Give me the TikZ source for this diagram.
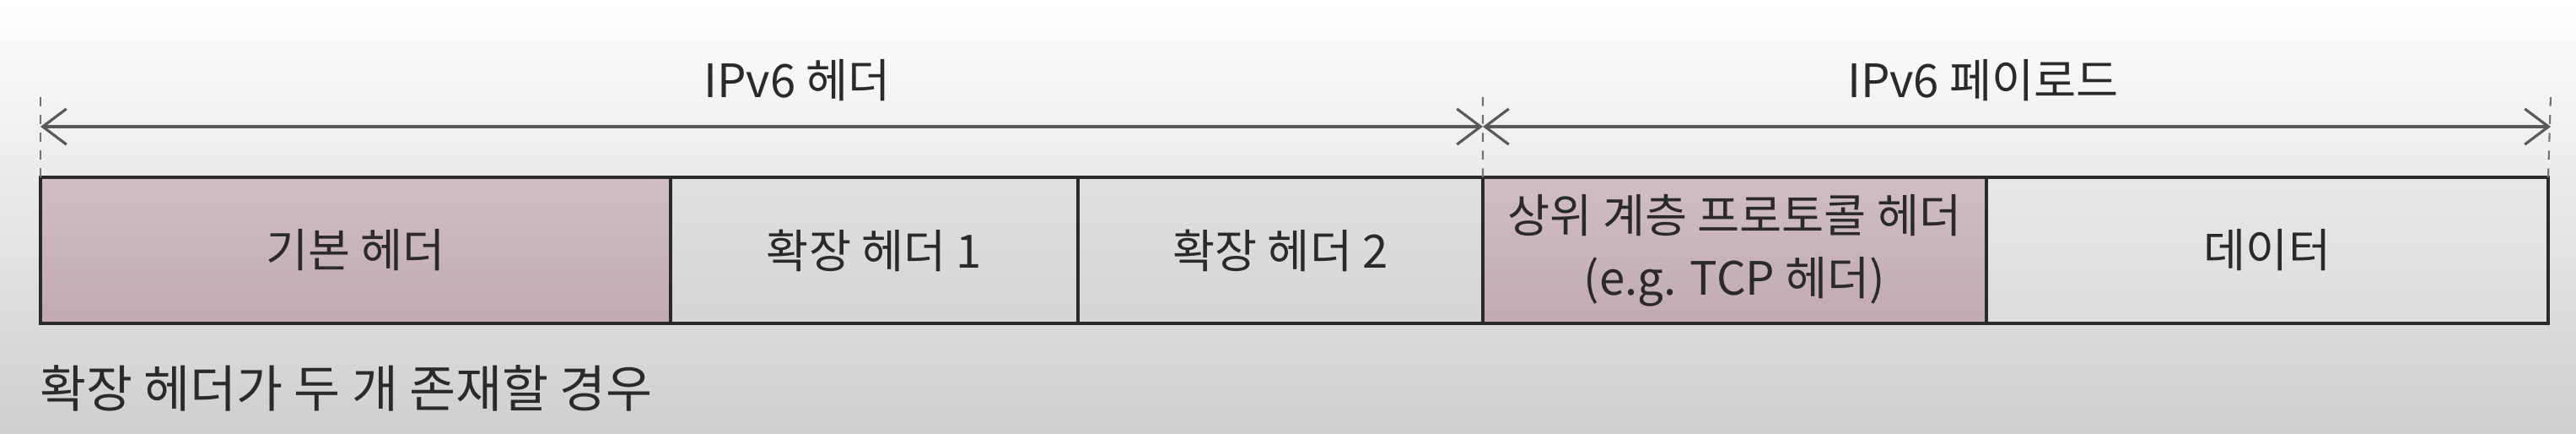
\documentclass[tikz,border=0pt]{standalone}
\usepackage{fontspec}
\setmainfont{Noto Sans CJK KR}
\usepackage{xcolor}
\usetikzlibrary{positioning,arrows.meta}

\definecolor{pinktop}{HTML}{D0BEC4}
\definecolor{pinkbot}{HTML}{C2AAB2}
\definecolor{greytop}{HTML}{E0E0E0}
\definecolor{greybot}{HTML}{D5D5D5}
\definecolor{datatop}{HTML}{E8E8E8}
\definecolor{databot}{HTML}{DCDCDC}
\definecolor{ink}{HTML}{2A2A2A}

\begin{document}
\begin{tikzpicture}[
    >={Straight Barb[length=8pt,width=12pt]},
    line width=0.8pt,
    every node/.style={font=\fontsize{15.5}{21}\selectfont, text=ink},
    cell/.style={draw=ink, line width=1.1pt, minimum height=1.73cm, inner sep=0pt, outer sep=0pt, align=center},
    pinkcell/.style={cell, top color=pinktop, bottom color=pinkbot},
    greycell/.style={cell, top color=greytop, bottom color=greybot},
    datacell/.style={cell, top color=datatop, bottom color=databot},
    guide/.style={draw=black!55, dashed, line width=0.6pt},
    span/.style={<->, draw=black!65, line width=0.9pt}
  ]
    \useasboundingbox (0,0) rectangle (30.54,5.14);
    \shade[top color=white, bottom color=black!19] (0,0) rectangle (30.54,5.14);

    % packet cells
    \node[pinkcell, minimum width=7.47cm, anchor=south west] (base) at (0.48,1.31) {기본 헤더};
    \node[greycell, minimum width=4.83cm, right=0pt of base] (ext1) {확장 헤더 1};
    \node[greycell, minimum width=4.80cm, right=0pt of ext1] (ext2) {확장 헤더 2};
    \node[pinkcell, minimum width=5.97cm, right=0pt of ext2] (upper) {상위 계층 프로토콜 헤더\\(e.g. TCP 헤더)};
    \node[datacell, minimum width=6.66cm, right=0pt of upper] (data) {데이터};

    % guides and spans
    \coordinate (lt) at (0.48,4.01);
    \coordinate (mt) at (17.58,4.01);
    \coordinate (rt) at (30.24,4.01);
    \draw[guide] (base.north west) -- (lt);
    \draw[guide] (upper.north west) -- (mt);
    \draw[guide] (data.north east) -- (rt);

    \coordinate (la) at (0.48,3.64);
    \coordinate (ma) at (17.58,3.64);
    \coordinate (ra) at (30.24,3.64);
    \draw[span] (la) -- (ma);
    \draw[span] (ma) -- (ra);

    \node (hdrlbl) at (9.45,4.19) {IPv6 헤더};
    \node (paylbl) at (23.51,4.19) {IPv6 페이로드};

    \node[anchor=west, font=\fontsize{17}{20}\selectfont] (note) at (0.34,0.54) {확장 헤더가 두 개 존재할 경우};
  \end{tikzpicture}
\end{document}
